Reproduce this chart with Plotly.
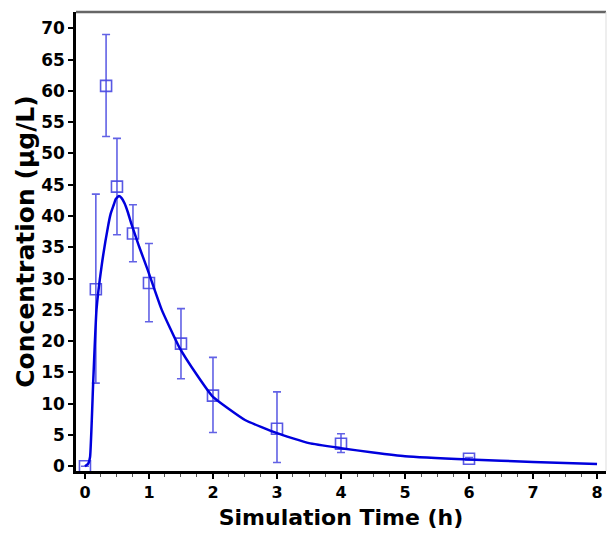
import plotly.graph_objects as go

# observed means with asymmetric error bars
obs_t = [0, 0.17, 0.33, 0.5, 0.75, 1.0, 1.5, 2.0, 3.0, 4.0, 6.0]
obs_c = [0, 28.3, 60.8, 44.7, 37.2, 29.3, 19.6, 11.3, 6.0, 3.6, 1.2]
err_up = [0, 15.2, 8.2, 7.7, 4.6, 6.3, 5.6, 6.1, 5.9, 1.6, 0.2]
err_lo = [0, 15.0, 8.1, 7.7, 4.5, 6.2, 5.6, 5.9, 5.4, 1.4, 0.2]

# simulated curve
sim_t = [0, 0.05, 0.08, 0.13, 0.18, 0.26, 0.36, 0.4, 0.45, 0.48, 0.53, 0.57, 0.62,
         0.67, 0.72, 0.85, 0.98, 1.2, 1.47, 1.75, 2.0, 2.5, 3.0, 3.5, 4.0, 4.5,
         5.0, 6.0, 7.0, 8.0]
sim_c = [0, 0.4, 1.5, 13.8, 25, 32, 38.3, 40.3, 41.8, 42.7, 43.2, 42.9, 42,
         40.6, 38.9, 35, 31.4, 25, 19.1, 14.6, 11.1, 7.4, 5.3, 3.7, 2.9, 2.2,
         1.6, 1.07, 0.7, 0.37]

x_ticks = list(range(0, 9))
y_ticks = list(range(0, 71, 5))

fam = "DejaVu Sans, Liberation Sans, sans-serif"
font = dict(family=fam, color="black", weight="bold")

fig = go.Figure()
fig.add_trace(go.Scatter(
    x=obs_t, y=obs_c, mode="markers",
    marker=dict(symbol="square-open", size=11, color="rgba(70,70,225,0.9)",
                line=dict(width=1.6)),
    error_y=dict(type="data", symmetric=False, array=err_up, arrayminus=err_lo,
                 color="rgba(70,70,225,0.85)", thickness=1.6, width=4),
    showlegend=False,
))
fig.add_trace(go.Scatter(
    x=sim_t, y=sim_c, mode="lines",
    line=dict(color="#0000dd", width=2.5, shape="spline", smoothing=0.4),
    showlegend=False,
))

fig.update_layout(
    width=608, height=533,
    margin=dict(l=76, r=2, t=12, b=62),
    paper_bgcolor="white", plot_bgcolor="white",
    font=font,
    xaxis=dict(
        range=[-0.14, 8.14], tickvals=x_ticks, showgrid=False, zeroline=False,
        automargin=False, ticklabeloverflow="allow",
        showline=True, linecolor="black", linewidth=2.5,
        ticks="outside", ticklen=5, tickwidth=2, tickcolor="black",
        minor=dict(dtick=0.25, ticks="outside", ticklen=3, tickwidth=1, tickcolor="#555"),
        tickfont=dict(size=16, **font),
        title=dict(text="Simulation Time (h)", font=dict(size=22, **font), standoff=9),
    ),
    yaxis=dict(
        range=[-0.75, 72.6], tickvals=y_ticks, showgrid=False, zeroline=False,
        automargin=False,
        showline=True, linecolor="black", linewidth=2.5,
        ticks="outside", ticklen=5, tickwidth=2, tickcolor="black",
        tickfont=dict(size=17, **font),
        title=dict(text="Concentration (μg/L)", font=dict(size=25, **font), standoff=0),
    ),
    shapes=[
        dict(type="line", xref="paper", yref="paper", x0=0, x1=1, y0=1, y1=1,
             line=dict(color="#666", width=2.5)),
        dict(type="line", xref="paper", yref="paper", x0=1, x1=1, y0=0, y1=1,
             line=dict(color="#ddd", width=1)),
    ],
)

# drop the default page margin so the 608x533 figure fills the window
fig.write_html("out.html", config={"displayModeBar": False},
               post_script="document.body.style.margin='0';")
